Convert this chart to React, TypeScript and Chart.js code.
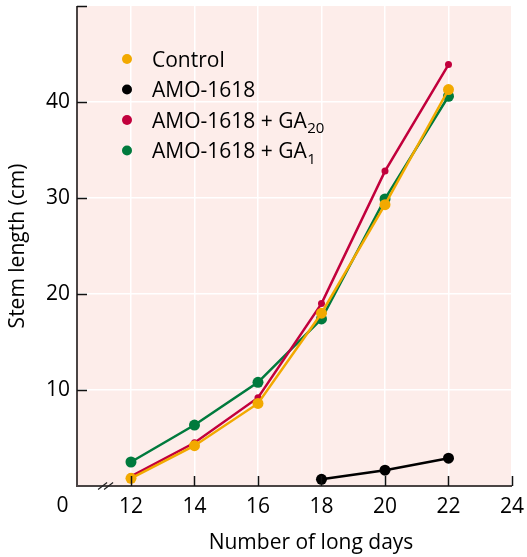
import React, { useEffect, useRef } from "react";
import { Chart, registerables } from "chart.js";

Chart.register(...registerables);

// ---- data ----
const days = [12, 14, 16, 18, 20, 22];
const control = [0.8, 4.2, 8.6, 18.0, 29.3, 41.3];
const amo1618 = [null, null, null, 0.7, 1.65, 2.9];
const amoGA20 = [1.0, 4.5, 9.2, 19.0, 32.8, 43.9];
const amoGA1 = [2.5, 6.35, 10.8, 17.4, 29.9, 40.6];

const xTicks = [12, 14, 16, 18, 20, 22, 24];
const yTicks = [10, 20, 30, 40];
const xBreakLabel = "0";
const xTitle = "Number of long days";
const yTitle = "Stem length (cm)";

const seriesBase = ["Control", "AMO-1618", "AMO-1618 + GA", "AMO-1618 + GA"];
const seriesSub = ["", "", "20", "1"];

const X_MIN = 10.3;
const X_MAX = 24;
const Y_MIN = 0;
const Y_MAX = 50;

// ---- styles ----
const FONT = "'Open Sans', 'Noto Sans', 'DejaVu Sans', sans-serif";
const FS = 21;
const COLORS = ["#f2a900", "#000000", "#c2003c", "#007a3d"];
const RADII = [5.5, 5.5, 3.5, 5.5];
const BG = "#fdedea";
const AXIS = "#4a4444";

const seriesValues = [control, amo1618, amoGA20, amoGA1];

const decorPlugin = {
  id: "decor",
  beforeDraw(chart: any) {
    const { ctx, chartArea: a } = chart;
    ctx.save();
    ctx.fillStyle = BG;
    ctx.fillRect(a.left, a.top, a.right - a.left, a.bottom - a.top);
    ctx.restore();
  },
  afterDraw(chart: any) {
    const { ctx, chartArea: a, scales } = chart;
    const xs = scales.x;
    const ys = scales.y;
    ctx.save();
    // axis lines
    ctx.strokeStyle = AXIS;
    ctx.lineWidth = 2;
    ctx.beginPath();
    ctx.moveTo(a.left, a.top);
    ctx.lineTo(a.left, a.bottom);
    ctx.lineTo(a.right, a.bottom);
    ctx.stroke();
    // inward ticks
    ctx.strokeStyle = "#111";
    ctx.lineWidth = 1.5;
    ctx.beginPath();
    for (const v of [...yTicks, Y_MAX]) {
      const py = Math.round(ys.getPixelForValue(v)) + 0.5;
      ctx.moveTo(a.left, py);
      ctx.lineTo(a.left + 10, py);
    }
    for (const v of xTicks) {
      const px = Math.round(xs.getPixelForValue(v)) + 0.5;
      ctx.moveTo(px, a.bottom);
      ctx.lineTo(px, a.bottom - 10);
    }
    ctx.stroke();
    // axis break marks
    const bx = xs.getPixelForValue(11.2);
    ctx.strokeStyle = "#222";
    ctx.lineWidth = 1.2;
    ctx.beginPath();
    for (const off of [-3, 3]) {
      ctx.moveTo(bx + off - 4.5, a.bottom + 3.5);
      ctx.lineTo(bx + off + 4.5, a.bottom - 3.5);
    }
    ctx.stroke();
    // broken-axis origin label
    ctx.fillStyle = "#000";
    ctx.font = `${FS}px ${FONT}`;
    ctx.textAlign = "center";
    ctx.textBaseline = "alphabetic";
    ctx.fillText(xBreakLabel, xs.getPixelForValue(10) - 5, a.bottom + 26);
    // x-axis title
    ctx.fillText(xTitle, a.left + 234, a.bottom + 63);
    // legend
    const lx = a.left + 50;
    const tx = a.left + 75;
    const rowH = 30.5;
    for (let i = 0; i < seriesBase.length; i++) {
      const cy = a.top + 53 + i * rowH;
      ctx.fillStyle = COLORS[i];
      ctx.beginPath();
      ctx.arc(lx, cy, 5, 0, Math.PI * 2);
      ctx.fill();
      ctx.fillStyle = "#000";
      ctx.textAlign = "left";
      ctx.textBaseline = "alphabetic";
      ctx.font = `${FS}px ${FONT}`;
      const base = seriesBase[i];
      ctx.fillText(base, tx, cy + 7.5);
      if (seriesSub[i]) {
        const w = ctx.measureText(base).width;
        ctx.font = `15px ${FONT}`;
        ctx.fillText(seriesSub[i], tx + w + 0.5, cy + 13);
      }
    }
    ctx.restore();
  },
};

export default function App() {
  const ref = useRef<HTMLCanvasElement | null>(null);

  useEffect(() => {
    if (!ref.current) return;
    const datasets = seriesValues.map((vals, i) => ({
      label: seriesBase[i] + seriesSub[i],
      data: days.map((d, j) => ({ x: d, y: vals[j] })),
      borderColor: COLORS[i],
      backgroundColor: COLORS[i],
      pointBackgroundColor: COLORS[i],
      pointBorderColor: COLORS[i],
      pointRadius: RADII[i],
      pointBorderWidth: 0,
      borderWidth: 2.5,
      tension: 0,
      spanGaps: false,
    }));

    const chart = new Chart(ref.current, {
      type: "line",
      data: { datasets },
      plugins: [decorPlugin],
      options: {
        animation: false,
        responsive: true,
        maintainAspectRatio: false,
        layout: { padding: { top: 6, right: 15, left: 0, bottom: 0 } },
        plugins: {
          legend: { display: false },
          tooltip: { enabled: false },
        },
        scales: {
          x: {
            type: "linear",
            min: X_MIN,
            max: X_MAX,
            afterBuildTicks: (s: any) => {
              s.ticks = xTicks.map((v) => ({ value: v }));
            },
            afterFit: (s: any) => {
              s.height = 71;
              s.paddingLeft = 0;
              s.paddingRight = 0;
            },
            grid: { color: "#ffffff", lineWidth: 1.5, drawTicks: false },
            border: { display: false },
            ticks: {
              color: "#000",
              padding: 8,
              font: { family: FONT, size: FS },
              maxRotation: 0,
              autoSkip: false,
            },
            title: { display: false },
          },
          y: {
            type: "linear",
            min: Y_MIN,
            max: Y_MAX,
            afterBuildTicks: (s: any) => {
              s.ticks = yTicks.map((v) => ({ value: v }));
            },
            afterFit: (s: any) => {
              s.width = 77;
              s.paddingTop = 0;
              s.paddingBottom = 0;
            },
            grid: { color: "#ffffff", lineWidth: 1.5, drawTicks: false },
            border: { display: false },
            ticks: {
              color: "#000",
              padding: 7,
              font: { family: FONT, size: FS },
            },
            title: {
              display: true,
              text: yTitle,
              color: "#000",
              font: { family: FONT, size: FS },
              padding: { top: 5, bottom: 0 },
            },
          },
        },
      },
    });
    return () => chart.destroy();
  }, []);

  return (
    <div style={{ position: "fixed", left: 0, top: 0, width: 527, height: 557, background: "#fff" }}>
      <canvas ref={ref} />
    </div>
  );
}
